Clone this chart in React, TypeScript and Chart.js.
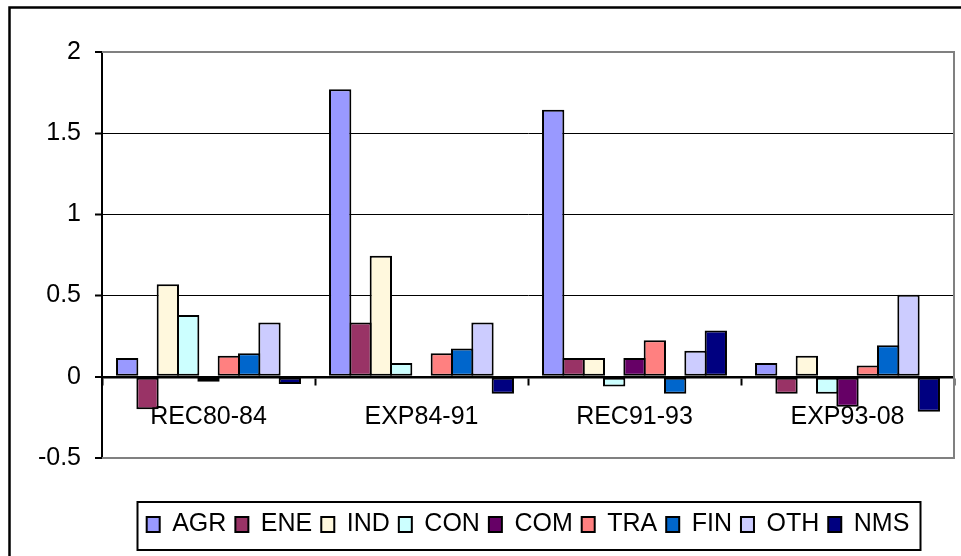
import React, { useEffect, useRef } from "react";
import { Chart, registerables } from "chart.js";

Chart.register(...registerables);

const categories = ["REC80-84", "EXP84-91", "REC91-93", "EXP93-08"];
const seriesNames = ["AGR", "ENE", "IND", "CON", "COM", "TRA", "FIN", "OTH", "NMS"];
const AGR = [0.115, 1.77, 1.645, 0.085];
const ENE = [-0.2, 0.335, 0.115, -0.105];
const IND = [0.57, 0.745, 0.115, 0.13];
const CON = [0.38, 0.085, -0.06, -0.105];
const COM = [-0.03, 0, 0.115, -0.185];
const TRA = [0.13, 0.145, 0.225, 0.07];
const FIN = [0.145, 0.175, -0.105, 0.195];
const OTH = [0.335, 0.335, 0.16, 0.505];
const NMS = [-0.045, -0.105, 0.285, -0.215];
const seriesColors = ["#9999FF", "#993366", "#FFF8DD", "#CCFFFF", "#660066", "#FF8080", "#0066CC", "#CCCCFF", "#000080"];
const yTicks = [-0.5, 0, 0.5, 1, 1.5, 2];

const FONT = "'Liberation Sans', Arial, sans-serif";

const framePlugin = {
  id: "frame",
  beforeDraw(chart: any) {
    const ctx = chart.ctx;
    ctx.save();
    ctx.strokeStyle = "#000";
    ctx.lineWidth = 2.5;
    ctx.beginPath();
    ctx.moveTo(9.5, 700);
    ctx.lineTo(9.5, 7.5);
    ctx.lineTo(1200, 7.5);
    ctx.stroke();
    ctx.restore();
  },
  beforeDatasetsDraw(chart: any) {
    const { ctx, chartArea } = chart;
    ctx.save();
    ctx.strokeStyle = "#808080";
    ctx.lineWidth = 2;
    ctx.beginPath();
    ctx.moveTo(chartArea.left, chartArea.top);
    ctx.lineTo(chartArea.right, chartArea.top);
    ctx.lineTo(chartArea.right, chartArea.bottom);
    ctx.lineTo(chartArea.left, chartArea.bottom);
    ctx.stroke();
    ctx.restore();
  },
  afterDraw(chart: any) {
    const lg = chart.legend;
    if (!lg || !lg.legendHitBoxes || !lg.legendHitBoxes.length) return;
    const hb = lg.legendHitBoxes;
    let minL = Infinity, maxR = -Infinity;
    hb.forEach((b: any) => {
      minL = Math.min(minL, b.left);
      maxR = Math.max(maxR, b.left + b.width);
    });
    const cy = hb[0].top + hb[0].height / 2;
    const ctx = chart.ctx;
    ctx.save();
    ctx.strokeStyle = "#000";
    ctx.lineWidth = 2;
    ctx.strokeRect(Math.round(minL - 10) + 0.5, Math.round(cy - 23), Math.round(maxR - minL + 20), 48);
    ctx.restore();
  },
};

export default function App() {
  const ref = useRef<HTMLCanvasElement | null>(null);

  useEffect(() => {
    if (!ref.current) return;
    const seriesValues = [AGR, ENE, IND, CON, COM, TRA, FIN, OTH, NMS];
    const chart = new Chart(ref.current, {
      type: "bar",
      data: {
        labels: categories,
        datasets: seriesNames.map((name, i) => ({
          label: name,
          data: seriesValues[i],
          backgroundColor: seriesColors[i],
          borderColor: "#000",
          borderWidth: 2,
          borderSkipped: false,
          inflateAmount: 0,
          categoryPercentage: 0.859,
          barPercentage: 1.098,
        })),
      },
      options: {
        animation: false,
        responsive: true,
        maintainAspectRatio: false,
        devicePixelRatio: 1,
        layout: { padding: { left: 0, right: 7, top: 52, bottom: 9 } },
        plugins: {
          tooltip: { enabled: false },
          legend: {
            display: true,
            position: "bottom",
            fullSize: false,
            title: { display: true, text: "", font: { size: 10, lineHeight: 1 }, padding: { top: 35, bottom: 0 } },
            labels: {
              boxWidth: 13,
              boxHeight: 15,
              padding: 9,
              color: "#000",
              font: { family: FONT, size: 25 },
            },
          },
        },
        scales: {
          x: {
            type: "category",
            position: { y: 0 } as any,
            z: 1,
            afterFit: (s: any) => {
              s.height = 0;
            },
            grid: {
              offset: true,
              drawOnChartArea: false,
              drawTicks: true,
              tickLength: 7,
              tickColor: "#000",
              tickWidth: 2,
            },
            border: { display: true, color: "#000", width: 2.5 },
            ticks: {
              color: "#000",
              font: { family: FONT, size: 25 },
              padding: 18,
              maxRotation: 0,
              autoSkip: false,
            },
          },
          y: {
            type: "linear",
            position: "left",
            min: -0.5,
            max: 2,
            afterFit: (s: any) => {
              s.width = 102;
            },
            afterBuildTicks: (s: any) => {
              s.ticks = yTicks.map((v) => ({ value: v }));
            },
            grid: {
              color: (c: any) => (c.tick && (c.tick.value === 2 || c.tick.value === -0.5) ? "#808080" : "#000"),
              lineWidth: (c: any) => (c.tick && (c.tick.value === 2 || c.tick.value === -0.5 || c.tick.value === 0) ? 2 : 1),
              drawTicks: true,
              tickLength: 7,
              tickColor: "#000",
              tickWidth: 2,
            },
            border: { display: true, color: "#000", width: 2 },
            ticks: {
              color: "#000",
              font: { family: FONT, size: 25 },
              padding: 14,
              callback: (v: any) => String(v),
            },
          },
        },
      },
      plugins: [framePlugin],
    });
    return () => chart.destroy();
  }, []);

  return (
    <div style={{ position: "fixed", left: 0, top: 0, width: 961, height: 556, background: "#fff" }}>
      <canvas ref={ref} />
    </div>
  );
}
